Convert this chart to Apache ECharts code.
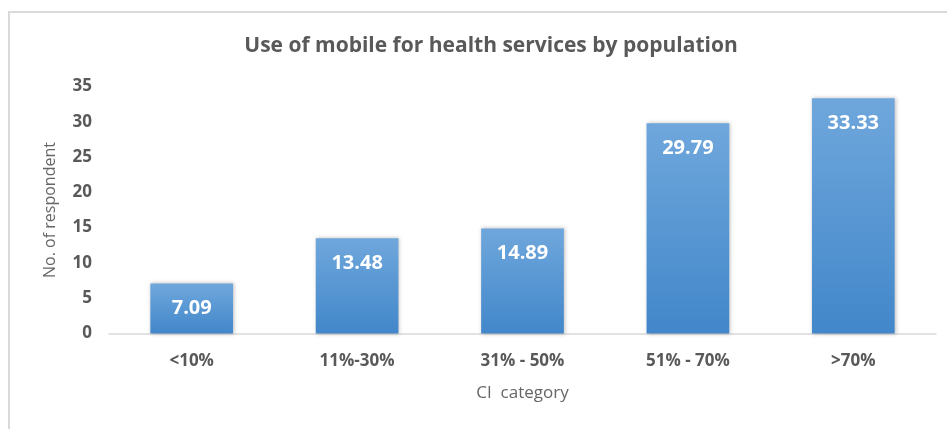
<!DOCTYPE html>
<html>
<head>
<meta charset="utf-8">
<script src="https://cdn.jsdelivr.net/npm/echarts@6/dist/echarts.min.js"></script>
<style>
  html, body { margin: 0; padding: 0; background: #ffffff; overflow: hidden; width: 947px; height: 429px; }
  #frame { position: absolute; left: 8px; top: 11px; width: 960px; height: 440px;
           border: 2px solid #d9d9d9; box-sizing: border-box; }
  #chart { position: absolute; left: 0; top: 0; width: 947px; height: 429px; }
</style>
</head>
<body>
<div id="frame"></div>
<div id="chart"></div>
<script>
const categories = ['<10%', '11%-30%', '31% - 50%', '51% - 70%', '>70%'];
const respondents = [7.09, 13.48, 14.89, 29.79, 33.33];
const yTicks = { min: 0, max: 35, interval: 5 };

const FONT = '"Open Sans", Lato, sans-serif';
const chart = echarts.init(document.getElementById('chart'), null, { renderer: 'canvas' });

chart.setOption({
  backgroundColor: 'transparent',
  animation: false,
  title: {
    text: 'Use of mobile for health services by population',
    left: 486,
    top: 31,
    textAlign: 'center',
    textStyle: { fontFamily: FONT, fontWeight: 'bold', fontSize: 21, color: '#595959' }
  },
  grid: { left: 109, right: 11, top: 86.5, bottom: 95.5, containLabel: false },
  xAxis: {
    type: 'category',
    data: categories,
    name: 'CI  category',
    nameLocation: 'middle',
    nameGap: 51,
    nameTextStyle: { fontFamily: FONT, fontSize: 17, color: '#666666' },
    axisLine: { lineStyle: { color: '#d9d9d9', width: 1.5 } },
    axisTick: { show: false },
    axisLabel: { fontFamily: FONT, fontWeight: 'bold', fontSize: 17, color: '#595959', margin: 19 }
  },
  yAxis: {
    type: 'value',
    min: yTicks.min,
    max: yTicks.max,
    interval: yTicks.interval,
    name: 'No. of respondent',
    nameLocation: 'middle',
    nameGap: 51,
    nameTextStyle: { fontFamily: FONT, fontSize: 16, color: '#666666' },
    axisLine: { show: false },
    axisTick: { show: false },
    splitLine: { show: false },
    axisLabel: { fontFamily: FONT, fontWeight: 'bold', fontSize: 17, color: '#595959', margin: 17 }
  },
  series: [{
    type: 'bar',
    data: respondents,
    barWidth: '50%',
    itemStyle: {
      color: new echarts.graphic.LinearGradient(0, 0, 0, 1, [
        { offset: 0, color: '#6fa7dc' },
        { offset: 1, color: '#4287ca' }
      ]),
      shadowColor: 'rgba(0,0,0,0.25)',
      shadowBlur: 4,
      shadowOffsetX: 1,
      shadowOffsetY: 0
    },
    label: {
      show: true,
      position: 'insideTop',
      distance: 15,
      formatter: p => p.value.toFixed(2),
      fontFamily: FONT,
      fontWeight: 'bold',
      fontSize: 20,
      color: '#ffffff'
    }
  }]
});
</script>
</body>
</html>
